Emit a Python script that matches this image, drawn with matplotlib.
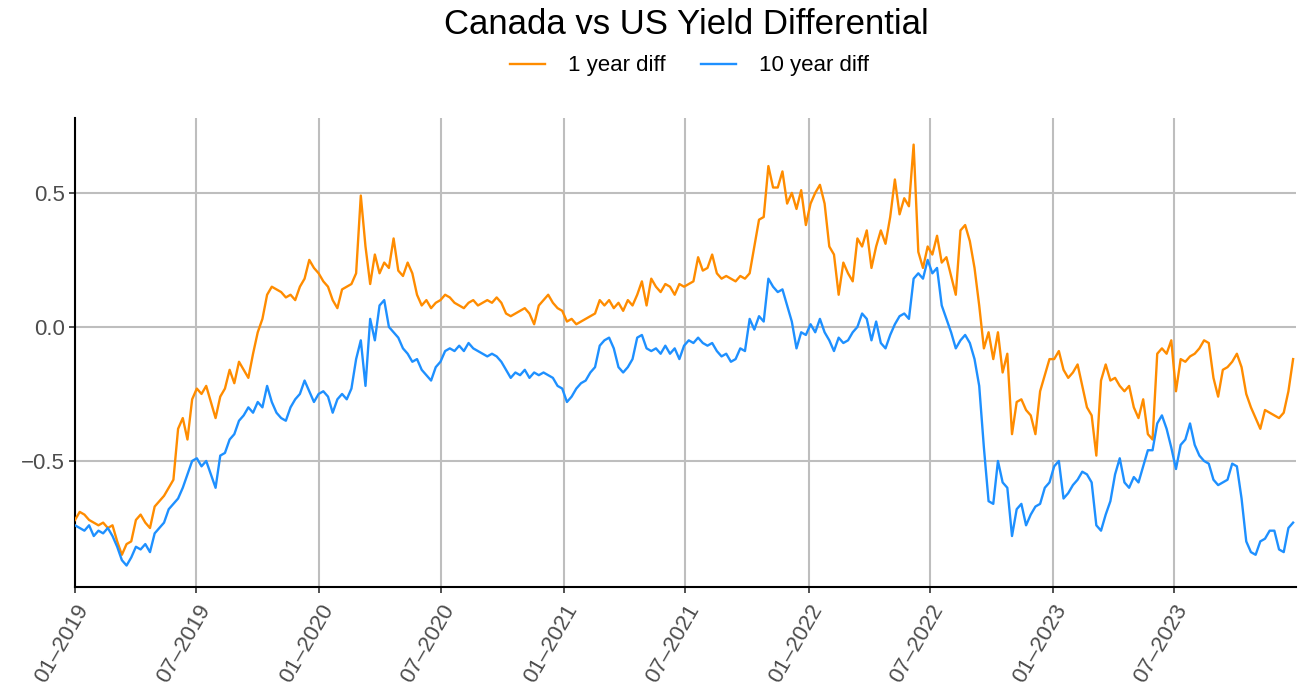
import matplotlib
matplotlib.use('Agg')
import matplotlib.pyplot as plt
import matplotlib.dates as mdates
import numpy as np
import pandas as pd

START = "2019-01-01"

one_year = [
    -0.72, -0.69, -0.70, -0.72, -0.73, -0.74, -0.73, -0.75, -0.74, -0.80,
    -0.85, -0.81, -0.80, -0.72, -0.70, -0.73, -0.75, -0.67, -0.65, -0.63,
    -0.60, -0.57, -0.38, -0.34, -0.42, -0.27, -0.23, -0.25, -0.22, -0.28,
    -0.34, -0.26, -0.23, -0.16, -0.21, -0.13, -0.16, -0.19, -0.10, -0.02,
    0.03, 0.12, 0.15, 0.14, 0.13, 0.11, 0.12, 0.10, 0.15, 0.18,
    0.25, 0.22, 0.20, 0.17, 0.15, 0.10, 0.07, 0.14, 0.15, 0.16,
    0.20, 0.49, 0.30, 0.16, 0.27, 0.20, 0.24, 0.22, 0.33, 0.21,
    0.19, 0.24, 0.20, 0.12, 0.08, 0.10, 0.07, 0.09, 0.10, 0.12,
    0.11, 0.09, 0.08, 0.07, 0.09, 0.10, 0.08, 0.09, 0.10, 0.09,
    0.11, 0.09, 0.05, 0.04, 0.05, 0.06, 0.07, 0.05, 0.01, 0.08,
    0.10, 0.12, 0.09, 0.07, 0.06, 0.02, 0.03, 0.01, 0.02, 0.03,
    0.04, 0.05, 0.10, 0.08, 0.10, 0.07, 0.09, 0.06, 0.10, 0.08,
    0.12, 0.17, 0.08, 0.18, 0.15, 0.13, 0.16, 0.15, 0.12, 0.16,
    0.15, 0.16, 0.17, 0.26, 0.21, 0.22, 0.27, 0.20, 0.18, 0.19,
    0.18, 0.17, 0.19, 0.18, 0.20, 0.30, 0.40, 0.41, 0.60, 0.52,
    0.52, 0.58, 0.46, 0.50, 0.44, 0.51, 0.38, 0.46, 0.50, 0.53,
    0.46, 0.30, 0.27, 0.12, 0.24, 0.20, 0.17, 0.33, 0.30, 0.36,
    0.22, 0.30, 0.36, 0.31, 0.41, 0.55, 0.42, 0.48, 0.45, 0.68,
    0.28, 0.22, 0.30, 0.27, 0.34, 0.24, 0.26, 0.19, 0.12, 0.36,
    0.38, 0.32, 0.22, 0.08, -0.08, -0.02, -0.12, -0.02, -0.17, -0.10,
    -0.40, -0.28, -0.27, -0.31, -0.33, -0.40, -0.24, -0.18, -0.12, -0.12,
    -0.09, -0.16, -0.19, -0.17, -0.14, -0.22, -0.30, -0.33, -0.48, -0.20,
    -0.14, -0.20, -0.19, -0.22, -0.24, -0.22, -0.30, -0.34, -0.27, -0.40,
    -0.42, -0.10, -0.08, -0.10, -0.05, -0.24, -0.12, -0.13, -0.11, -0.10,
    -0.08, -0.05, -0.06, -0.19, -0.26, -0.16, -0.15, -0.13, -0.10, -0.15,
    -0.25, -0.30, -0.34, -0.38, -0.31, -0.32, -0.33, -0.34, -0.32, -0.24,
    -0.12,
]

ten_year = [
    -0.74, -0.75, -0.76, -0.74, -0.78, -0.76, -0.77, -0.75, -0.78, -0.82,
    -0.87, -0.89, -0.86, -0.82, -0.83, -0.81, -0.84, -0.77, -0.75, -0.73,
    -0.68, -0.66, -0.64, -0.60, -0.55, -0.50, -0.49, -0.52, -0.50, -0.55,
    -0.60, -0.48, -0.47, -0.42, -0.40, -0.35, -0.33, -0.30, -0.32, -0.28,
    -0.30, -0.22, -0.28, -0.32, -0.34, -0.35, -0.30, -0.27, -0.25, -0.20,
    -0.24, -0.28, -0.25, -0.24, -0.26, -0.32, -0.27, -0.25, -0.27, -0.23,
    -0.12, -0.05, -0.22, 0.03, -0.05, 0.08, 0.10, 0.00, -0.02, -0.04,
    -0.08, -0.10, -0.13, -0.12, -0.16, -0.18, -0.20, -0.15, -0.13, -0.09,
    -0.08, -0.09, -0.07, -0.09, -0.06, -0.08, -0.09, -0.10, -0.11, -0.10,
    -0.11, -0.13, -0.16, -0.19, -0.17, -0.18, -0.16, -0.19, -0.17, -0.18,
    -0.17, -0.18, -0.19, -0.22, -0.23, -0.28, -0.26, -0.23, -0.21, -0.20,
    -0.17, -0.15, -0.07, -0.05, -0.04, -0.08, -0.15, -0.17, -0.15, -0.12,
    -0.04, -0.03, -0.08, -0.09, -0.08, -0.10, -0.07, -0.10, -0.08, -0.12,
    -0.07, -0.05, -0.06, -0.04, -0.06, -0.07, -0.06, -0.09, -0.11, -0.10,
    -0.13, -0.12, -0.08, -0.09, 0.03, -0.01, 0.04, 0.02, 0.18, 0.15,
    0.13, 0.14, 0.08, 0.02, -0.08, -0.02, -0.03, 0.01, -0.02, 0.03,
    -0.02, -0.05, -0.09, -0.04, -0.06, -0.05, -0.02, 0.00, 0.05, 0.03,
    -0.05, 0.02, -0.06, -0.08, -0.03, 0.01, 0.04, 0.05, 0.03, 0.18,
    0.20, 0.18, 0.25, 0.20, 0.22, 0.08, 0.03, -0.02, -0.08, -0.05,
    -0.03, -0.06, -0.12, -0.22, -0.45, -0.65, -0.66, -0.50, -0.58, -0.60,
    -0.78, -0.68, -0.66, -0.74, -0.70, -0.67, -0.66, -0.60, -0.58, -0.52,
    -0.50, -0.64, -0.62, -0.59, -0.57, -0.54, -0.55, -0.58, -0.74, -0.76,
    -0.70, -0.65, -0.55, -0.49, -0.58, -0.60, -0.56, -0.58, -0.52, -0.46,
    -0.46, -0.36, -0.33, -0.38, -0.45, -0.53, -0.44, -0.42, -0.36, -0.44,
    -0.48, -0.50, -0.51, -0.57, -0.59, -0.58, -0.57, -0.51, -0.52, -0.64,
    -0.80, -0.84, -0.85, -0.80, -0.79, -0.76, -0.76, -0.83, -0.84, -0.75,
    -0.73,
]

dates = pd.date_range(START, periods=len(one_year), freq="7D")

C_ONE = "#FF8C00"
C_TEN = "#1E90FF"
GRID = "#BEBEBE"
TXT = "#4D4D4D"

plt.rcParams['font.family'] = ['Liberation Sans', 'DejaVu Sans']

fig = plt.figure(figsize=(12.98, 6.93), dpi=100)
ax = fig.add_axes([0.0578, 0.153, 0.941, 0.677])

ax.plot(dates, one_year, color=C_ONE, lw=1.7, label="1 year diff", zorder=3)
ax.plot(dates, ten_year, color=C_TEN, lw=1.7, label="10 year diff", zorder=3)

ax.set_xlim(pd.Timestamp("2019-01-01"), pd.Timestamp("2023-12-31"))
ax.set_ylim(-0.97, 0.78)
ax.set_yticks([-0.5, 0.0, 0.5])
ax.set_yticklabels(["\u22120.5", "0.0", "0.5"])

ax.xaxis.set_major_locator(mdates.MonthLocator(bymonth=[1, 7]))
ax.xaxis.set_major_formatter(mdates.DateFormatter("%m\u2013%Y"))
for lbl in ax.get_xticklabels():
    lbl.set_rotation(60)
    lbl.set_ha("right")
    lbl.set_rotation_mode("anchor")

ax.grid(True, color=GRID, lw=1.5, zorder=0)
ax.set_axisbelow(True)
for side in ("top", "right"):
    ax.spines[side].set_visible(False)
for side in ("left", "bottom"):
    ax.spines[side].set_color("black")
    ax.spines[side].set_linewidth(1.5)
ax.tick_params(axis="both", colors="#333333", labelcolor=TXT, labelsize=16,
               length=4, width=1.2)
ax.tick_params(axis="x", pad=6)

fig.text(0.5285, 0.965, "Canada vs US Yield Differential", ha="center",
         va="center", fontsize=25, color="black")
fig.legend(loc="center", bbox_to_anchor=(0.531, 0.905), ncol=2, frameon=False,
           fontsize=16, handlelength=1.6, columnspacing=1.6, handletextpad=1.0)

fig.savefig("out.png", dpi=100, facecolor="white")
